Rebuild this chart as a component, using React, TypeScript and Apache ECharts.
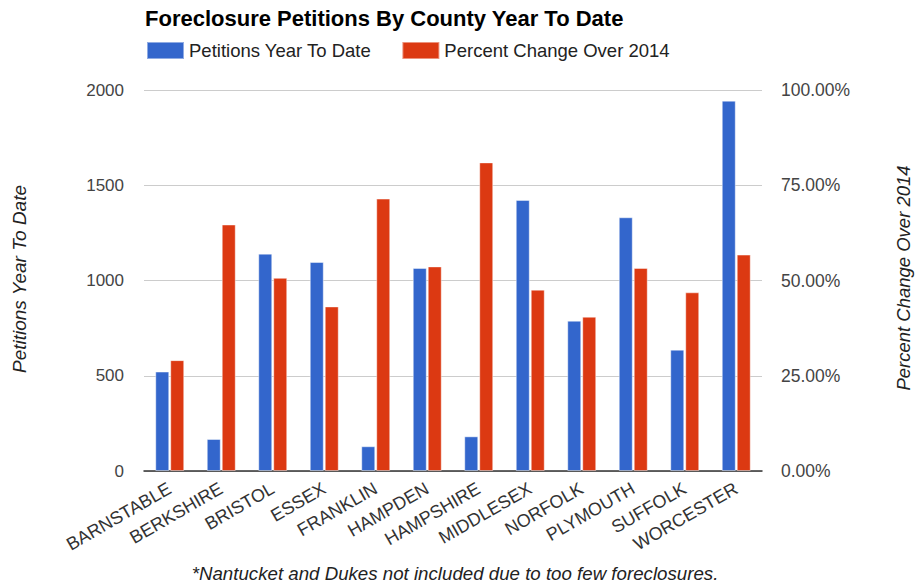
import React, { useEffect, useRef } from "react";
import * as echarts from "echarts";

const counties = [
  "BARNSTABLE", "BERKSHIRE", "BRISTOL", "ESSEX", "FRANKLIN", "HAMPDEN",
  "HAMPSHIRE", "MIDDLESEX", "NORFOLK", "PLYMOUTH", "SUFFOLK", "WORCESTER",
];
const petitions = [522, 168, 1141, 1097, 130, 1066, 182, 1423, 789, 1332, 637, 1944];
const percentChange = [0.291, 0.647, 0.507, 0.432, 0.715, 0.537, 0.81, 0.476, 0.405, 0.533, 0.469, 0.568];
const leftTicks = { min: 0, max: 2000, interval: 500 };
const rightTicks = { min: 0, max: 1, interval: 0.25 };

const titleText = "Foreclosure Petitions By County Year To Date";
const seriesNames = ["Petitions Year To Date", "Percent Change Over 2014"];
const footnote = "*Nantucket and Dukes not included due to too few foreclosures.";

const FONT = "'Liberation Sans', Arial, sans-serif";

export default function App() {
  const ref = useRef<HTMLDivElement>(null);
  useEffect(() => {
    if (!ref.current) return;
    const chart = echarts.init(ref.current, undefined, { renderer: "svg" });
    chart.setOption({
      animation: false,
      backgroundColor: "#ffffff",
      textStyle: { fontFamily: FONT },
      title: {
        text: titleText,
        left: 140,
        top: 2,
        textStyle: { fontFamily: FONT, fontSize: 22, fontWeight: "bold", color: "#000000" },
      },
      legend: {
        left: 141,
        top: 36,
        itemWidth: 37,
        itemHeight: 17,
        itemGap: 30,
        icon: "rect",
        textStyle: { fontFamily: FONT, fontSize: 18.5, color: "#222222" },
        data: seriesNames,
      },
      grid: { left: 144, right: 153, top: 90, bottom: 116 },
      xAxis: {
        type: "category",
        data: counties,
        axisLine: { lineStyle: { color: "#333333", width: 1.5 } },
        axisTick: { show: false },
        axisLabel: {
          rotate: 30,
          interval: 0,
          margin: 16,
          fontFamily: FONT,
          fontSize: 18,
          color: "#333333",
        },
      },
      yAxis: [
        {
          type: "value",
          min: leftTicks.min,
          max: leftTicks.max,
          interval: leftTicks.interval,
          axisLine: { show: false },
          axisTick: { show: false },
          splitLine: { lineStyle: { color: "#cccccc", width: 1 } },
          axisLabel: {
            margin: 20,
            fontFamily: FONT,
            fontSize: 17,
            color: "#444444",
            formatter: (v: number) => String(v),
          },
        },
        {
          type: "value",
          min: rightTicks.min,
          max: rightTicks.max,
          interval: rightTicks.interval,
          axisLine: { show: false },
          axisTick: { show: false },
          splitLine: { show: false },
          axisLabel: {
            margin: 19,
            fontFamily: FONT,
            fontSize: 17.5,
            color: "#444444",
            formatter: (v: number) => (v * 100).toFixed(2) + "%",
          },
        },
      ],
      series: [
        {
          name: seriesNames[0],
          type: "bar",
          yAxisIndex: 0,
          data: petitions,
          barWidth: 14,
          barGap: "7%",
          itemStyle: { color: "#3366cc", borderColor: "rgba(255,255,255,0.45)", borderWidth: 1 },
        },
        {
          name: seriesNames[1],
          type: "bar",
          yAxisIndex: 1,
          data: percentChange,
          barWidth: 14,
          barGap: "7%",
          itemStyle: { color: "#dc3912", borderColor: "rgba(255,255,255,0.45)", borderWidth: 1 },
        },
      ],
      graphic: [
        {
          type: "text",
          x: 19,
          y: 279,
          rotation: Math.PI / 2,
          style: {
            text: seriesNames[0],
            font: `italic 19px ${FONT}`,
            fill: "#222222",
            align: "center",
            verticalAlign: "middle",
          },
        },
        {
          type: "text",
          x: 903,
          y: 278,
          rotation: Math.PI / 2,
          style: {
            text: seriesNames[1],
            font: `italic 18.5px ${FONT}`,
            fill: "#222222",
            align: "center",
            verticalAlign: "middle",
          },
        },
        {
          type: "text",
          x: 455,
          y: 573,
          style: {
            text: footnote,
            font: `italic 18.7px ${FONT}`,
            fill: "#222222",
            align: "center",
            verticalAlign: "middle",
          },
        },
      ],
    });
    return () => chart.dispose();
  }, []);
  return (
    <div
      ref={ref}
      style={{ position: "absolute", left: 0, top: 0, width: 915, height: 587 }}
    />
  );
}
